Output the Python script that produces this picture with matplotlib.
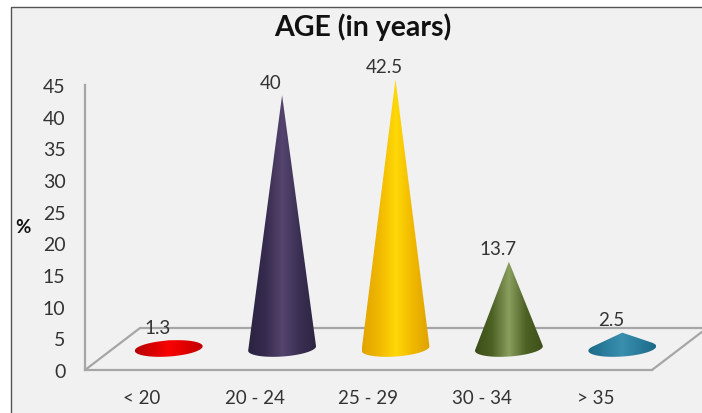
import numpy as np
import matplotlib
matplotlib.use("Agg")
import matplotlib.pyplot as plt
from matplotlib.colors import LinearSegmentedColormap
from matplotlib.patches import PathPatch, Rectangle, Polygon
from matplotlib.path import Path

categories = ["< 20", "20 - 24", "25 - 29", "30 - 34", "> 35"]
values = [1.3, 40, 42.5, 13.7, 2.5]
value_labels = ["1.3", "40", "42.5", "13.7", "2.5"]
yticks = list(range(0, 50, 5))
shades = [
    ["#b80000", "#d80000", "#f80404", "#e00000", "#c00000"],
    ["#2b2240", "#362b4e", "#54446e", "#3a2f52", "#2d2442"],
    ["#e2a400", "#f0b800", "#ffd808", "#f0b800", "#dea200"],
    ["#3c4e18", "#4c6124", "#8a9e5e", "#4c6124", "#3e5019"],
    ["#1c6a88", "#2a7d9c", "#3a8fae", "#2a7d9c", "#1c6a88"],
]

W, H = 702, 414
plt.rcParams["font.family"] = ["Lato", "DejaVu Sans"]
fig = plt.figure(figsize=(W / 100, H / 100), dpi=100, facecolor="white")
fig.add_artist(Rectangle((10.5 / W, -0.1), 1.1, 1.1 - 7.5 / H,
                         transform=fig.transFigure, facecolor="#f1f1f1",
                         edgecolor="#555555", linewidth=1.0, zorder=-5))

ax = fig.add_axes([85 / W, (H - 371) / H, 567 / W, 285 / H], facecolor="none", zorder=2)
ax.set_xlim(-0.5, 4.5)
ax.set_ylim(0, 45)
px_x = 567 / 5      # pixels per category
px_y = 285 / 45     # pixels per value unit

for s in ("top", "right"):
    ax.spines[s].set_visible(False)
for s in ("left", "bottom"):
    ax.spines[s].set_color("#a6a6a6")
    ax.spines[s].set_linewidth(1.6)

ax.set_xticks(range(5), categories)
ax.set_yticks(yticks, [str(t) for t in yticks])
ax.tick_params(axis="y", length=0, pad=14, labelsize=14, labelcolor="#333333")
ax.tick_params(axis="x", length=0, pad=14, labelsize=13.5, labelcolor="#333333")

# perspective floor
depth_x, depth_y = 55 / px_x, 42 / px_y
x0, x1 = ax.get_xlim()
ax.add_patch(Polygon([(x1, 0), (x1 + depth_x, depth_y), (x0 + depth_x, depth_y), (x0, 0)],
                     closed=False, fill=False, edgecolor="#a6a6a6", linewidth=1.6,
                     clip_on=False, zorder=1))


def hull(points):
    pts = sorted(map(tuple, points))
    def half(seq):
        out = []
        for p in seq:
            while len(out) > 1 and ((out[-1][0] - out[-2][0]) * (p[1] - out[-2][1])
                                    - (out[-1][1] - out[-2][1]) * (p[0] - out[-2][0])) <= 0:
                out.pop()
            out.append(p)
        return out[:-1]
    return half(pts) + half(pts[::-1])


rx, ry, tilt = 34.0, 8.0, np.deg2rad(4)
base_y = 21.5 / px_y
t = np.linspace(0, 2 * np.pi, 180, endpoint=False)
ex = rx * np.cos(t) * np.cos(tilt) - ry * np.sin(t) * np.sin(tilt)
ey = rx * np.cos(t) * np.sin(tilt) + ry * np.sin(t) * np.cos(tilt)

for i, (v, lab, cols) in enumerate(zip(values, value_labels, shades)):
    cx = i + 27 / px_x
    apex_h = v * px_y
    pts = list(zip(ex, ey)) + [(0.0, apex_h)]
    outline = hull(pts)
    verts = [(cx + a / px_x, base_y + b / px_y) for a, b in outline]
    verts.append(verts[0])
    path = Path(verts, closed=True)
    patch = PathPatch(path, transform=ax.transData, facecolor="none", edgecolor="none",
                      clip_on=False)
    ax.add_patch(patch)
    cmap = LinearSegmentedColormap.from_list(f"c{i}", cols)
    im = ax.imshow(np.linspace(0, 1, 256).reshape(1, -1), cmap=cmap,
                   extent=(cx - rx / px_x, cx + rx / px_x, -5, 50),
                   aspect="auto", zorder=3)
    im.set_clip_box(fig.bbox)
    im.set_clip_path(patch)
    ax.annotate(lab, (cx, base_y + v), xytext=(-11 * 0.72, 13 * 0.72),
                textcoords="offset points", ha="center", va="center",
                fontsize=13.5, color="#333333", zorder=5, annotation_clip=False)

ax.set_xlim(x0, x1)
ax.set_ylim(0, 45)

fig.text(363 / W, 1 - 27 / H, "AGE (in years)", ha="center", va="center",
         fontsize=20.5, fontweight="bold", color="#111111")
fig.text(23 / W, 1 - 228 / H, "%", ha="center", va="center",
         fontsize=13.5, fontweight="bold", color="#111111")

fig.savefig("out.png", dpi=100)
